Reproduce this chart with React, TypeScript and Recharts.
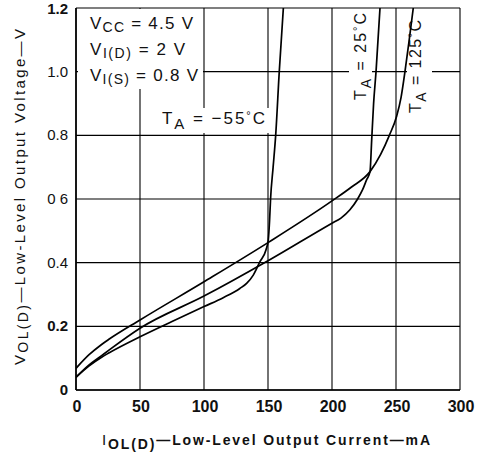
import React from 'react';
import { LineChart, Line, XAxis, YAxis, CartesianGrid, Customized } from 'recharts';

const xTicks = [0, 50, 100, 150, 200, 250, 300];
const yTicks = [0, 0.2, 0.4, 0.6, 0.8, 1.0, 1.2];
const yTickLabels = ['0', '0.2', '0.4', '0 6', '0.8', '1.0', '1.2'];

// T_A = -55 °C
const currentM55 = [0, 10, 20, 26, 50, 75, 100, 115, 128, 133.3, 138.5, 143.7, 148.4, 150.2, 151.2, 152, 154, 156, 158.8, 162];
const voltageM55 = [0.04, 0.075, 0.103, 0.117, 0.167, 0.215, 0.262, 0.29, 0.319, 0.335, 0.361, 0.403, 0.44, 0.471, 0.53, 0.6, 0.7, 0.8, 1.0, 1.2];

// T_A = 25 °C
const current25 = [0, 10, 20, 26, 50, 100, 150, 200, 207, 214, 220, 224, 227, 229.7, 231, 232.5, 234.4, 237.5];
const voltage25 = [0.04, 0.078, 0.108, 0.126, 0.194, 0.295, 0.406, 0.524, 0.54, 0.566, 0.6, 0.63, 0.66, 0.686, 0.785, 0.9, 1.0, 1.2];

// T_A = 125 °C
const current125 = [0, 10, 20, 26, 50, 100, 150, 200, 215, 229.7, 238, 244.8, 250.5, 254, 257, 260, 263.5];
const voltage125 = [0.068, 0.11, 0.143, 0.16, 0.22, 0.34, 0.463, 0.594, 0.637, 0.686, 0.74, 0.8, 0.86, 0.92, 1.0, 1.09, 1.2];

const toSeries = (xs: number[], ys: number[]) => xs.map((i, k) => ({ i, v: ys[k] }));

const seriesM55 = toSeries(currentM55, voltageM55);
const series25 = toSeries(current25, voltage25);
const series125 = toSeries(current125, voltage125);

const FONT = '"Liberation Sans", Arial, Helvetica, sans-serif';
const INK = '#111';

const XTick = (props: any) => {
  const { x, y, payload } = props;
  return (
    <text x={x + 1} y={y} dy={22} textAnchor="middle" fontFamily={FONT} fontWeight="bold" fontSize={16} fill={INK}>
      {payload.value}
    </text>
  );
};

const YTick = (props: any) => {
  const { x, y, payload } = props;
  const idx = yTicks.findIndex((t) => Math.abs(t - payload.value) < 1e-6);
  const label = idx >= 0 ? yTickLabels[idx] : String(payload.value);
  const bold = label === '1.2' || label === '0.2' || label === '0';
  return (
    <text x={x - 8} y={y} dy={5} textAnchor="end" fontFamily={FONT} fontWeight={bold ? 'bold' : 'normal'} fontSize={15} fill={INK}>
      {label}
    </text>
  );
};

const Annotations = () => (
  <g fontFamily={FONT} fill={INK}>
    <rect x={78} y={9} width={125} height={80} fill="#fff" />
    <rect x={158} y={108} width={111} height={25} fill="#fff" />
    <rect x={349} y={9} width={23} height={96} fill="#fff" />
    <rect x={407} y={12} width={25} height={106} fill="#fff" />

    <text x={90} y={29} fontSize={17} textLength={103} lengthAdjust="spacing">
      V<tspan fontSize={14} dy={3}>CC</tspan>
      <tspan dy={-3}> = 4.5 V</tspan>
    </text>
    <text x={90} y={55} fontSize={17} textLength={95} lengthAdjust="spacing">
      V<tspan fontSize={14} dy={3}>I(D)</tspan>
      <tspan dy={-3}> = 2 V</tspan>
    </text>
    <text x={90} y={81} fontSize={17} textLength={108} lengthAdjust="spacing">
      V<tspan fontSize={14} dy={3}>I(S)</tspan>
      <tspan dy={-3}> = 0.8 V</tspan>
    </text>

    <text x={162} y={124} fontSize={17} textLength={103} lengthAdjust="spacing">
      T<tspan fontSize={15} dy={5}>A</tspan>
      <tspan dy={-5}> = −55</tspan>
      <tspan fontSize={11} dy={-5}>°</tspan>
      <tspan dy={5}>C</tspan>
    </text>

    <text x={366} y={100} fontSize={16} transform="rotate(-90, 366, 100)" textLength={87} lengthAdjust="spacing">
      T<tspan fontSize={14} dy={5}>A</tspan>
      <tspan dy={-5}> = 25</tspan>
      <tspan fontSize={11} dy={-5}>°</tspan>
      <tspan dy={5}>C</tspan>
    </text>
    <text x={421} y={113} fontSize={16} transform="rotate(-90, 421, 113)" textLength={93} lengthAdjust="spacing">
      T<tspan fontSize={14} dy={5}>A</tspan>
      <tspan dy={-5}> = 125</tspan>
      <tspan fontSize={11} dy={-5}>°</tspan>
      <tspan dy={5}>C</tspan>
    </text>

    <text x={102} y={445} fontSize={14} fontWeight="bold" textLength={328} lengthAdjust="spacing">
      <tspan fontWeight="normal" fontSize={15}>I</tspan>
      <tspan fontSize={14} dy={4}>OL(D)</tspan>
      <tspan dy={-4}>—Low-Level Output Current—mA</tspan>
    </text>

    <text x={25} y={365} fontSize={15} transform="rotate(-90, 25, 365)" textLength={336} lengthAdjust="spacing">
      V<tspan fontSize={14} dy={3}>OL(D)</tspan>
      <tspan dy={-3}>—Low-Level Output Voltage—V</tspan>
    </text>
  </g>
);

export default function App() {
  return (
    <div style={{ position: 'absolute', left: 0, top: 0, width: 485, height: 456, background: '#fff' }}>
      <LineChart width={485} height={456} margin={{ top: 8, right: 25, left: 16, bottom: 36 }}>
        <CartesianGrid stroke="#000" strokeWidth={1.1} horizontal vertical />
        <XAxis
          dataKey="i"
          type="number"
          domain={[0, 300]}
          ticks={xTicks}
          tickSize={0}
          tickMargin={0}
          height={30}
          stroke="#000"
          strokeWidth={1.6}
          tick={<XTick />}
          allowDataOverflow
        />
        <YAxis
          dataKey="v"
          type="number"
          domain={[0, 1.2]}
          ticks={yTicks}
          tickSize={0}
          tickMargin={0}
          width={60}
          stroke="#000"
          strokeWidth={1.6}
          tick={<YTick />}
          allowDataOverflow
        />
        <Customized component={Annotations} />
        <Line data={seriesM55} dataKey="v" type="monotone" stroke="#000" strokeWidth={1.7} dot={false} isAnimationActive={false} />
        <Line data={series25} dataKey="v" type="monotone" stroke="#000" strokeWidth={1.7} dot={false} isAnimationActive={false} />
        <Line data={series125} dataKey="v" type="monotone" stroke="#000" strokeWidth={1.7} dot={false} isAnimationActive={false} />
      </LineChart>
    </div>
  );
}
